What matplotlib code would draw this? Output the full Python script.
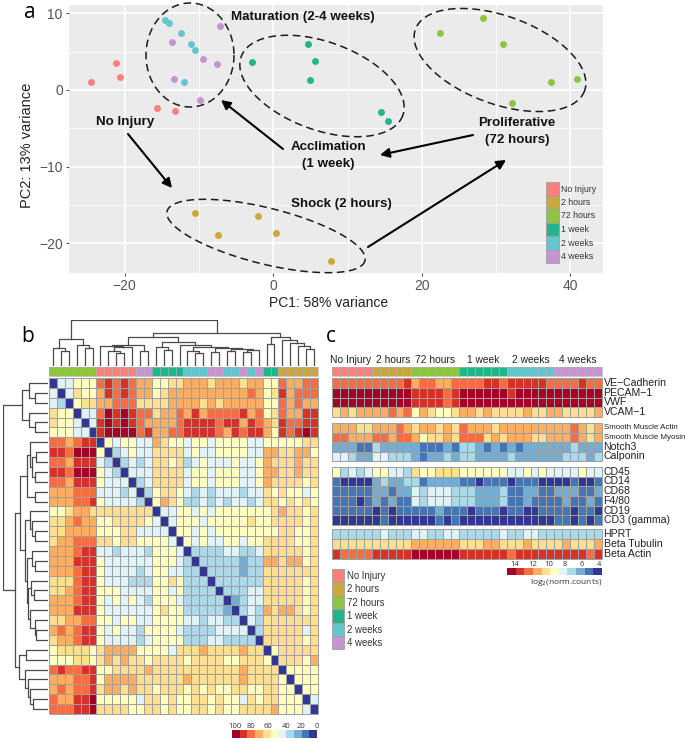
import numpy as np
import matplotlib
matplotlib.use("Agg")
import matplotlib.pyplot as plt
from matplotlib.colors import ListedColormap
from matplotlib.patches import Rectangle

W, H = 685, 742
narrow = ['Liberation Sans', 'DejaVu Sans']
plain = ['Open Sans', 'DejaVu Sans']

groups = ['No Injury', '2 hours', '72 hours', '1 week', '2 weeks', '4 weeks']
group_colors = ['#f9807c', '#c9a93a', '#8cc63f', '#20b58a', '#62c6cf', '#c695d1']

# PCA points
pc1_no_injury = [-24.6, -21.2, -20.6, -15.6, -13.2]
pc2_no_injury = [1.1, 3.5, 1.7, -2.3, -2.7]
pc1_2h = [-10.6, -7.4, -2.1, 0.4, 7.8]
pc2_2h = [-16.1, -19.0, -16.5, -18.7, -22.3]
pc1_72h = [22.4, 28.2, 30.9, 32.1, 37.4, 40.9]
pc2_72h = [7.5, 9.4, 6.0, -1.7, 1.0, 1.4]
pc1_1w = [-2.9, 4.7, 5.6, 4.9, 14.5, 15.5]
pc2_1w = [3.6, 6.0, 3.8, 1.3, -2.9, -4.1]
pc1_2w = [-14.6, -14.1, -12.4, -11.1, -10.6, -12.0]
pc2_2w = [9.2, 8.8, 7.5, 6.0, 5.2, 1.0]
pc1_4w = [-7.2, -13.6, -9.5, -7.6, -13.4, -9.8]
pc2_4w = [8.4, 6.3, 4.0, 3.4, 1.5, -1.3]

# sample correlation heatmap, levels 0 (blue) .. a (dark red)
corr_rows = """
044555 89898 77 5566 7776777677 55 87788
404655 79898 77 5677 7777777787 56 97888
430566 77888 66 6677 7767677777 55 87877
655044 8a9a9 88 6778 7978888978 56 87799
655404 9a9a9 87 7778 9999899798 76 98899
555440 9aaaa 89 7788 9999879899 75 989a9
887899 05455 44 7655 4554555544 55 55566
998aaa 50345 44 6666 4544555544 77 66775
887999 43034 34 6656 3454445445 76 66766
998aaa 54304 44 6666 4554555445 77 66766
887999 54440 34 6666 4554555445 76 66656
777888 44434 03 5665 4343444344 65 65545
777889 54444 30 5765 3343434434 66 56565
556776 66666 66 0445 5454555555 56 76656
667877 55666 65 4045 5545555565 56 66656
667777 55566 44 4405 5454555555 55 66556
677888 66566 55 5540 5454455455 66 66556
777899 44344 43 5554 0333344334 66 66656
777999 54444 44 5554 3033333233 77 67756
777899 54444 34 5544 3303333233 66 66666
666899 54443 33 5565 3330333333 66 66656
667899 55544 44 5545 3333033344 66 66656
777899 54545 43 5554 3333302344 66 66656
777999 54444 44 5655 3333320343 76 77656
667788 55455 44 5555 4434433043 66 66666
787899 54544 35 5554 3333444403 66 66646
677899 54444 34 5555 3334433330 66 66656
566665 67777 55 5546 6676666766 05 66666
555665 67676 65 6666 5666655666 50 66657
898899 55666 67 6666 6666666766 66 05555
777889 57777 66 6666 7666666766 66 50555
787889 67767 66 5666 5656556655 66 55055
877 99a 55555 46 6565 5665655465 66 55504
888 99a 66665 56 6565 5665655666 67 55540
"""
corr_levels = [[int(c, 16) for c in r.replace(' ', '')] for r in corr_rows.split('\n') if r.strip()]
corr_col_groups = [2]*6 + [0]*5 + [5]*2 + [3]*4 + [4]*3 + [5]*2 + [4]*2 + [5, 4, 5] + [3]*2 + [1]*5

# gene heatmap, same coding
genes_1 = ['VE\u2212Cadherin', 'PECAM\u22121', 'VWF', 'VCAM\u22121']
levels_1 = ['88888 88889 788778 888998 999998 888988',
            'aaaaa aaaaa 999989 aaaaaa 9aaaaa aaaaaa',
            'aaaaa aaaaa 999989 aaaaaa aaaaaa aaaaaa',
            '67677 77878 576556 776766 667667 766667']
genes_2 = ['Smooth Muscle Actin', 'Smooth Muscle Myosin', 'Notch3', 'Calponin']
levels_2 = ['77766 77787 677676 877767 777777 778767',
            '88777 88788 756676 888676 777667 778767',
            '22211 32222 211121 332121 212222 223222',
            '44322 44333 212232 332222 322222 233323']
genes_3 = ['CD45', 'CD14', 'CD68', 'F4/80', 'CD19', 'CD3 (gamma)']
levels_3 = ['53434 55443 655666 555555 445454 444544',
            '10000 23223 312222 110111 011100 001001',
            '11111 22122 434443 332223 112211 222112',
            '11101 21211 434443 332223 112111 121121',
            '11111 01011 111211 101110 110011 110110',
            '00000 01000 000101 000000 000000 110101']
genes_4 = ['HPRT', 'Beta Tubulin', 'Beta Actin']
levels_4 = ['33333 34333 443344 333334 334433 333333',
            '66666 66666 777777 666776 667666 676667',
            '98888 99999 aaaaaa 999999 899999 999989']
gene_col_groups = [0]*5 + [1]*5 + [2]*6 + [3]*6 + [4]*6 + [5]*6
gene_col_label_x = [351, 393, 435, 483, 531, 578]

heat_colors = ['#313695', '#4575b4', '#74add1', '#abd9e9', '#e0f3f8', '#ffffbf',
               '#fee090', '#fdae61', '#f46d43', '#d73027', '#a50026']
corr_bar_labels = ['100', '80', '60', '40', '20', '0']
corr_bar_x = [235, 251, 268, 286, 301, 317]
gene_bar_labels = ['14', '12', '10', '8', '6', '4']
gene_bar_x = [515, 533, 549, 565, 582, 599]

# dendrograms as (height, left, right), ints are leaves
tree_top = (100,
            (58, (40, 0, (33, 1, 2)), (45, 3, (40, 4, 5))),
            (72,
             (64,
              (45, (44, 6, (41, (33, 7, (28, 8, 9)), 10)), (33, 11, 12)),
              (53, (42, 13, (35, 14, 15)),
               (45, 16, (42, (32, 17, (28, 18, 19)),
                         (40, (31, 20, 21), (37, (33, 22, 23), (35, (30, 24, 25), 26)))))))
             ,
             (64, (48, 27, 28), (56, 29, (50, 30, (43, 31, (37, 32, 33)))))))
tree_left = (100,
             (57, (43, 0, (30, 1, 2)), (43, 3, (30, 4, 5))),
             (74,
              (63,
               (47, (40, 6, (35, (26, 7, 8), (28, 9, 10))), (30, 11, 12)),
               (52, (41, 13, (36, 14, (28, 15, 16))),
                (46, (35, 17, (30, 18, 19)),
                 (44, (38, 20, (32, 21, 22)), (40, 23, (30, 24, (27, 25, 26)))))))
              ,
              (65, (49, 27, 28), (52, 29, (45, 30, (40, 31, (33, 32, 33)))))))


def ax_px(left, top, right, bottom):
    return fig.add_axes([left / W, 1 - bottom / H, (right - left) / W, (bottom - top) / H])


def cell_lines(ax, n_rows, n_cols, color, lw):
    ax.hlines(np.arange(n_rows + 1), 0, n_cols, color=color, lw=lw, clip_on=False)
    ax.vlines(np.arange(n_cols + 1), 0, n_rows, color=color, lw=lw, clip_on=False)


def heat(left, top, right, bottom, rows):
    ax = ax_px(left, top, right, bottom)
    data = np.array(rows)
    ax.pcolormesh(data, cmap=ListedColormap(heat_colors), vmin=-0.5, vmax=10.5)
    cell_lines(ax, data.shape[0], data.shape[1], '#a0a0a0', 0.75)
    ax.invert_yaxis()
    ax.axis('off')
    return ax


def color_strip(left, top, right, bottom, col_groups):
    ax = ax_px(left, top, right, bottom)
    ax.pcolormesh(np.array([col_groups]), cmap=ListedColormap(group_colors), vmin=-0.5, vmax=5.5)
    cell_lines(ax, 1, len(col_groups), '#b0b0b0', 0.5)
    ax.axis('off')


def draw_tree(ax, node, vertical):
    if isinstance(node, int):
        return node + 0.5, 0
    h, a, b = node
    pa, ha = draw_tree(ax, a, vertical)
    pb, hb = draw_tree(ax, b, vertical)
    xs, ys = [pa, pa, pb, pb], [ha, h, h, hb]
    if vertical:
        ax.plot(xs, ys, color='#4a4a4a', lw=0.9)
    else:
        ax.plot(ys, xs, color='#4a4a4a', lw=0.9)
    return (pa + pb) / 2, h


def dashed_ellipse(ov, cx, cy, a, b, angle):
    t = np.linspace(0, 2 * np.pi, 200)
    r = np.radians(angle)
    ov.plot(cx + a * np.cos(t) * np.cos(r) - b * np.sin(t) * np.sin(r),
            cy + a * np.cos(t) * np.sin(r) + b * np.sin(t) * np.cos(r),
            color='#1a1a1a', lw=1.1, ls=(0, (5, 3)))


fig = plt.figure(figsize=(W / 100, H / 100), dpi=100)

# panel a
ax = ax_px(69, 5, 603, 273)
ax.set_facecolor('#ebebeb')
ax.set_xlim(-27.5, 44.4)
ax.set_ylim(-23.9, 11.1)
ax.set_xticks([-20, 0, 20, 40])
ax.set_yticks([-20, -10, 0, 10])
ax.set_xticks([-10, 10, 30], minor=True)
ax.set_yticks([-15, -5, 5], minor=True)
ax.set_xticklabels(['\u221220', '0', '20', '40'])
ax.set_yticklabels(['\u221220', '\u221210', '0', '10'])
ax.grid(True, which='major', color='white', lw=1.2)
ax.grid(True, which='minor', color='white', lw=0.6)
ax.set_axisbelow(True)
for s in ax.spines.values():
    s.set_visible(False)
ax.tick_params(which='minor', length=0)
ax.tick_params(which='major', length=2.5, color='#555555', labelcolor='#555555', labelsize=10, pad=2)
for t in ax.get_xticklabels() + ax.get_yticklabels():
    t.set_family(narrow)
series = [(pc1_no_injury, pc2_no_injury), (pc1_2h, pc2_2h), (pc1_72h, pc2_72h),
          (pc1_1w, pc2_1w), (pc1_2w, pc2_2w), (pc1_4w, pc2_4w)]
for (x, y), c in zip(series, group_colors):
    ax.scatter(x, y, s=25, color=c, linewidths=0, zorder=3)

# panel b
corr_ax = heat(49, 378, 318, 714, corr_levels)
color_strip(49, 367, 318, 376, corr_col_groups)
top_ax = ax_px(49, 320, 318, 366)
draw_tree(top_ax, tree_top, True)
top_ax.set_xlim(0, 34)
top_ax.set_ylim(0, 100)
top_ax.axis('off')
left_ax = ax_px(3, 378, 48, 714)
draw_tree(left_ax, tree_left, False)
left_ax.set_xlim(100, 0)
left_ax.set_ylim(34, 0)
left_ax.axis('off')
bar_ax = ax_px(232, 730, 317, 738)
bar_ax.pcolormesh(np.array([np.arange(10, -1, -1)]), cmap=ListedColormap(heat_colors),
                  vmin=-0.5, vmax=10.5, edgecolors='none')
bar_ax.axis('off')

# panel c
color_strip(332, 367, 602, 376, gene_col_groups)
blocks = [(378, 417, genes_1, levels_1), (423, 461, genes_2, levels_2),
          (467, 525, genes_3, levels_3), (529, 559, genes_4, levels_4)]
for top, bottom, names, rows in blocks:
    g_ax = heat(332, top, 602, bottom, [[int(c, 16) for c in r.replace(' ', '')] for r in rows])
    for i, name in enumerate(names):
        size = 5.7 if name.startswith('Smooth') else 7.6
        g_ax.text(34.2, i + 0.5, name, ha='left', va='center', fontsize=size, family=narrow, color='#222222')
bar_ax = ax_px(507, 568, 602, 575)
bar_ax.pcolormesh(np.array([np.arange(10, -1, -1)]), cmap=ListedColormap(heat_colors),
                  vmin=-0.5, vmax=10.5, edgecolors='none')
bar_ax.axis('off')

# everything placed by hand goes on a pixel overlay
ov = fig.add_axes([0, 0, 1, 1], facecolor='none', zorder=10)
ov.set_xlim(0, W)
ov.set_ylim(H, 0)
ov.axis('off')

dashed_ellipse(ov, 190, 55, 44, 52, 0)
dashed_ellipse(ov, 322, 86, 86, 44, 20)
dashed_ellipse(ov, 500, 60, 90, 44, 20)
dashed_ellipse(ov, 266, 236, 102, 28, 14)

arrows = [((128, 134), (172, 188)), ((283, 149), (221, 100)),
          ((473, 135), (380, 155)), ((368, 247), (506, 160))]
for start, end in arrows:
    ov.annotate('', xy=end, xytext=start,
                arrowprops=dict(arrowstyle='-|>,head_length=0.55,head_width=0.28', color='black', lw=1.5,
                                shrinkA=0, shrinkB=0))

notes = [(303, 17, 'Maturation (2-4 weeks)'), (125, 122, 'No Injury'), (328, 147, 'Acclimation'),
         (328, 164, '(1 week)'), (517, 123, 'Proliferative'), (517, 140, '(72 hours)'),
         (341, 204, 'Shock (2 hours)')]
for x, y, s in notes:
    ov.text(x, y, s, ha='center', va='center', fontsize=9.6, fontweight='bold', family=narrow, color='#111111')

for i, (name, c) in enumerate(zip(groups, group_colors)):
    ov.add_patch(Rectangle((546, 182 + i * 13.5), 13, 13.5, facecolor=c, edgecolor='#a0a0a0', lw=0.6))
    ov.text(561, 189 + i * 13.5, name, ha='left', va='center', fontsize=6.3, family=narrow, color='#333333')
    ov.add_patch(Rectangle((332, 569 + i * 13.4), 12, 13.4, facecolor=c, edgecolor='#a0a0a0', lw=0.6))
    ov.text(347, 576 + i * 13.4, name, ha='left', va='center', fontsize=6.9, family=narrow, color='#333333')
    ov.text(gene_col_label_x[i], 360, name, ha='center', va='center', fontsize=7.4, family=narrow, color='#222222')

ov.text(329, 303, 'PC1: 58% variance', ha='center', va='center', fontsize=10, family=narrow, color='#222222')
ov.text(27, 145, 'PC2: 13% variance', ha='center', va='center', rotation=90, fontsize=10.5, family=narrow, color='#222222')
ov.text(30, 13, 'a', ha='center', va='center', fontsize=15, family=plain, color='black')
ov.text(28, 336, 'b', ha='center', va='center', fontsize=15, family=plain, color='black')
ov.text(331, 336, 'c', ha='center', va='center', fontsize=15, family=plain, color='black')

for x, s in zip(corr_bar_x, corr_bar_labels):
    ov.text(x, 726, s, ha='center', va='center', fontsize=5.5, family=plain, color='#333333')
for x, s in zip(gene_bar_x, gene_bar_labels):
    ov.text(x, 564, s, ha='center', va='center', fontsize=5.5, family=plain, color='#333333')
ov.text(602, 582, 'log$_2$(norm.counts)', ha='right', va='center', fontsize=6, family=plain, color='#333333')

fig.savefig('out.png', dpi=100)
